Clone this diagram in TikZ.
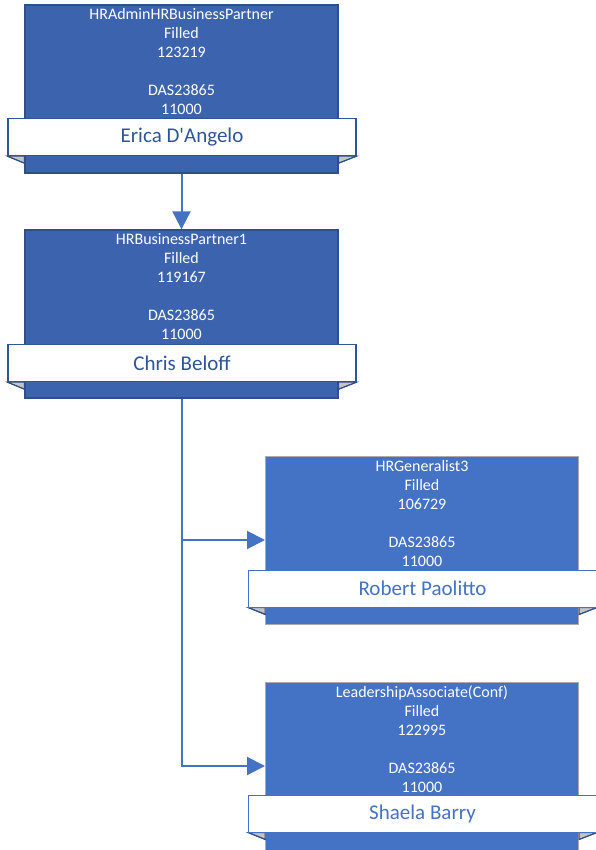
\documentclass[tikz,border=0pt]{standalone}
\usepackage{fontspec}
\setmainfont{Carlito}
\usepackage{tikz}
\usetikzlibrary{positioning,arrows.meta,calc}
\definecolor{PosDark}{HTML}{3C63AD}
\definecolor{PosDarkEdge}{HTML}{2F4F8C}
\definecolor{PosBlue}{HTML}{4472C4}
\definecolor{PosGreyEdge}{HTML}{ABABAB}
\definecolor{NameDark}{HTML}{2F5597}
\definecolor{FoldGrey}{HTML}{C4C4C4}
\newcommand{\infofont}{\fontsize{16}{19}\selectfont}
\newcommand{\namefont}{\fontsize{21}{24}\selectfont}

\begin{document}
\begin{tikzpicture}[
  x=1pt,y=-1pt,
  posbox/.style={minimum width=313pt,minimum height=168pt,inner sep=0pt},
  darkpos/.style={posbox,draw=PosDarkEdge,fill=PosDark,line width=1.3pt},
  bluepos/.style={posbox,draw=PosGreyEdge,fill=PosBlue,line width=1pt},
  info/.style={text=white,font=\infofont,align=center,inner sep=0pt},
  plate/.style={fill=white,minimum width=348pt,minimum height=37pt,
                inner sep=0pt,font=\namefont},
  darkplate/.style={plate,draw=NameDark,line width=1.3pt,text=NameDark},
  blueplate/.style={plate,draw=PosBlue,line width=1pt,text=PosBlue},
  fold/.style={fill=FoldGrey,draw=PosDarkEdge,line width=1pt},
  flow/.style={-{Triangle[length=18pt,width=18pt]},line width=2pt,draw=PosBlue}
]
\useasboundingbox (0,0) rectangle (595,850);

% Top of the chain
\node[darkpos] (erica) at (181.5,89) {};
\node[info] (ericainfo) at (181.5,62)
  {HRAdminHRBusinessPartner\\Filled\\123219\\[19pt]DAS23865\\11000};
\node[darkplate] (ericaname) at (182,137) {};
\fill[fold] (ericaname.south west) -- (erica.west |- ericaname.south) -- ++(0,7) -- cycle;
\fill[fold] (ericaname.south east) -- (erica.east |- ericaname.south) -- ++(0,7) -- cycle;
\draw[PosDarkEdge,line width=1pt] (ericaname.south west) -- ++(17,7);
\draw[PosDarkEdge,line width=1pt] (ericaname.south east) -- ++(-18,7);
\node[darkplate] at (ericaname) {Erica D\textquotesingle Angelo};

\node[darkpos] (chris) at (181.5,314) {};
\node[info] (chrisinfo) at (181.5,287)
  {HRBusinessPartner1\\Filled\\119167\\[19pt]DAS23865\\11000};
\node[darkplate] (chrisname) at (182,363) {};
\fill[fold] (chrisname.south west) -- (chris.west |- chrisname.south) -- ++(0,7) -- cycle;
\fill[fold] (chrisname.south east) -- (chris.east |- chrisname.south) -- ++(0,7) -- cycle;
\draw[PosDarkEdge,line width=1pt] (chrisname.south west) -- ++(17,7);
\draw[PosDarkEdge,line width=1pt] (chrisname.south east) -- ++(-18,7);
\node[darkplate] at (chrisname) {Chris Beloff};

% Direct reports
\node[bluepos] (robert) at (422,540) {};
\node[info] (robertinfo) at (422,513)
  {HRGeneralist3\\Filled\\106729\\[19pt]DAS23865\\11000};
\node[blueplate] (robertname) at (422.5,588.5) {};
\fill[fold] (robertname.south west) -- (robert.west |- robertname.south) -- ++(0,7) -- cycle;
\draw[PosDarkEdge,line width=1pt] (robertname.south west) -- ++(18,7);
\fill[fold] (robertname.south east) -- (robert.east |- robertname.south) -- ++(0,7) -- cycle;
\draw[PosDarkEdge,line width=1pt] (robertname.south east) -- ++(-18,7);
\node[blueplate] at (robertname) {Robert Paolitto};

\node[bluepos] (shaela) at (422,766) {};
\node[info] (shaelainfo) at (422,739)
  {LeadershipAssociate(Conf)\\Filled\\122995\\[19pt]DAS23865\\11000};
\node[blueplate] (shaelaname) at (422.5,813.5) {};
\fill[fold] (shaelaname.south west) -- (shaela.west |- shaelaname.south) -- ++(0,7) -- cycle;
\draw[PosDarkEdge,line width=1pt] (shaelaname.south west) -- ++(18,7);
\fill[fold] (shaelaname.south east) -- (shaela.east |- shaelaname.south) -- ++(0,7) -- cycle;
\draw[PosDarkEdge,line width=1pt] (shaelaname.south east) -- ++(-18,7);
\node[blueplate] at (shaelaname) {Shaela Barry};

% Reporting lines
\coordinate (branch) at (chris.south |- robert.west);
\draw[flow] (erica.south) -- (chris.north);
\draw[flow] (chris.south) |- (shaela.west);
\draw[flow] (branch) -- (robert.west);
\end{tikzpicture}
\end{document}
